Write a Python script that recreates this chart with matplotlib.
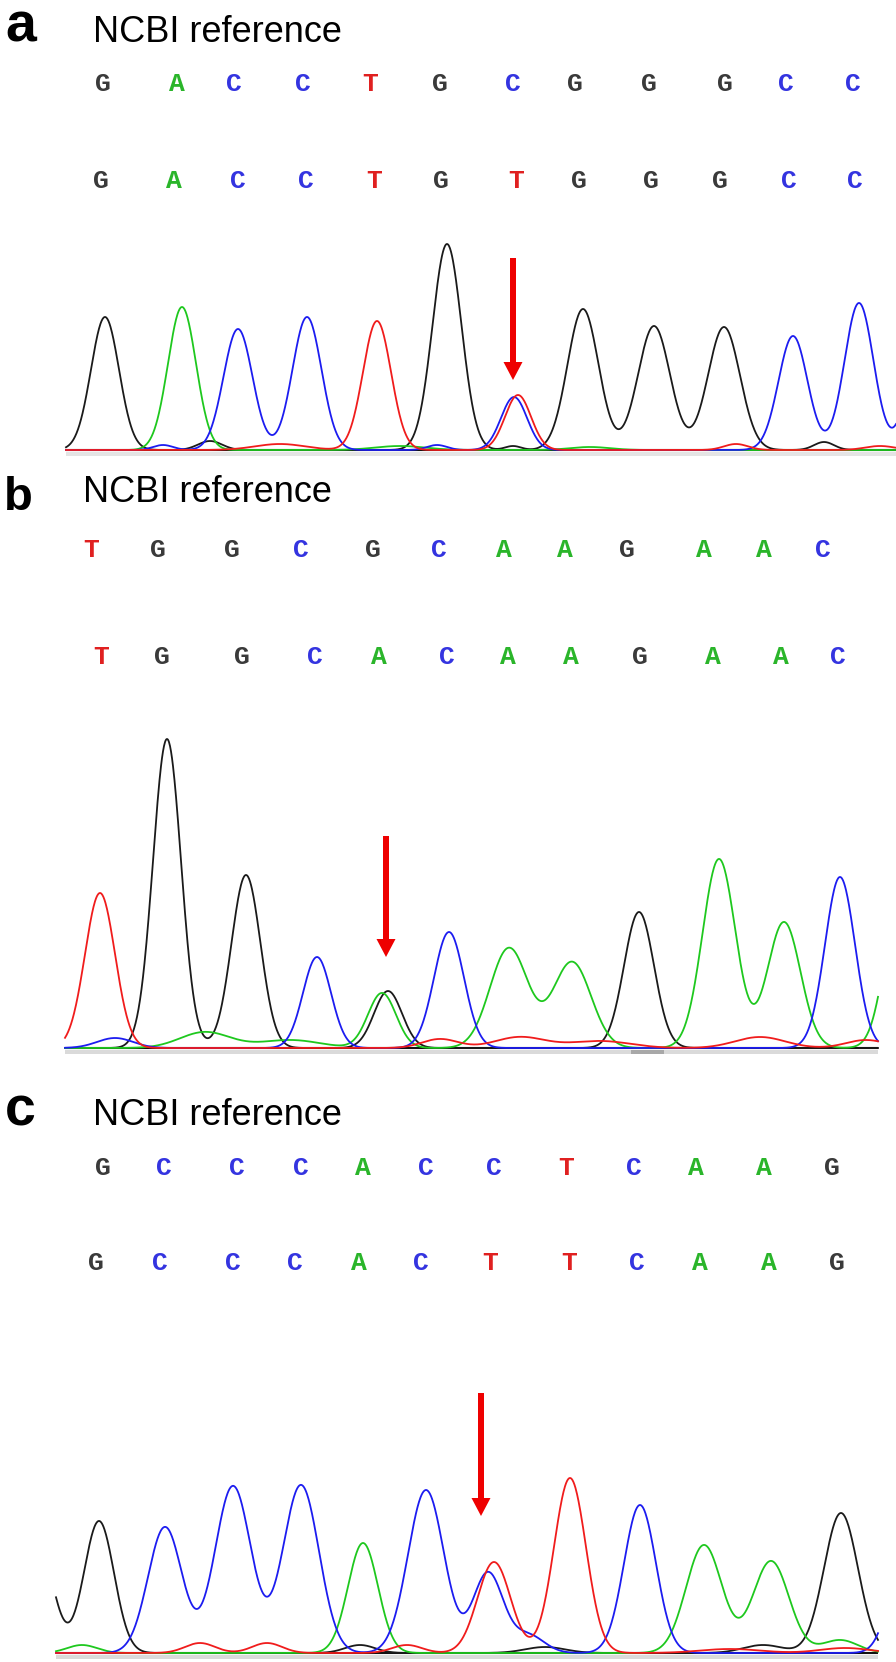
import numpy as np
import matplotlib
matplotlib.use("Agg")
import matplotlib.pyplot as plt
from matplotlib.patches import FancyArrow

# ---------------- data ----------------
panel_labels = ["a", "b", "c"]
title_text = "NCBI reference"

# base calls: reference row and sample row, with their x positions (scan units)
a_ref_seq = list("GACCTGCGGGCC")
a_ref_x = [103, 177, 234, 303, 370, 440, 513, 575, 649, 725, 786, 853]
a_smp_seq = list("GACCTGTGGGCC")
a_smp_x = [101, 174, 238, 306, 374, 441, 516, 579, 651, 720, 789, 855]

b_ref_seq = list("TGGCGCAAGAAC")
b_ref_x = [91, 158, 232, 301, 373, 439, 504, 565, 627, 704, 764, 823]
b_smp_seq = list("TGGCACAAGAAC")
b_smp_x = [101, 162, 242, 315, 379, 447, 508, 571, 640, 713, 781, 838]

c_ref_seq = list("GCCCACCTCAAG")
c_ref_x = [103, 164, 237, 301, 363, 426, 494, 566, 634, 696, 764, 832]
c_smp_seq = list("GCCCACTTCAAG")
c_smp_x = [96, 160, 233, 295, 359, 421, 490, 569, 637, 700, 769, 837]

# chromatogram peaks: channel, position, height, width
a_peak_base = ["G", "A", "C", "C", "T", "G", "C", "T", "G", "G", "G", "C", "C", "C",
               "G", "G", "G", "T", "T", "T", "C", "C", "A", "A"]
a_peak_pos = [105, 182, 238, 307, 377, 447, 514, 518, 583, 654, 724, 793, 859, 925,
              210, 513, 824, 280, 736, 880, 163, 437, 400, 590]
a_peak_height = [133, 143, 121, 133, 129, 206, 53, 55, 141, 124, 123, 114, 147, 150,
                 9, 4, 8, 6, 6, 4, 5, 5, 4, 3]
a_peak_width = [14, 14, 14.5, 14.5, 14, 14.5, 13, 13, 15.5, 16, 16, 14.5, 14.5, 14.5,
                12, 8, 10, 25, 12, 15, 10, 10, 25, 20]

b_peak_base = ["T", "G", "G", "C", "A", "G", "C", "A", "A", "G", "A", "A", "C", "A",
               "C", "A", "A", "T", "T", "T", "T", "T"]
b_peak_pos = [100, 167, 246, 317, 382, 388, 449, 509, 572, 639, 719, 784, 840, 900,
              115, 205, 290, 440, 520, 600, 760, 866]
b_peak_height = [155, 309, 173, 91, 55, 57, 116, 100, 86, 136, 189, 126, 171, 150,
                 10, 16, 8, 9, 11, 7, 11, 8]
b_peak_width = [15, 14, 14.5, 14, 14, 14, 15, 19, 19, 15, 16.5, 16.5, 15, 15,
                18, 25, 30, 18, 25, 30, 25, 20]

c_peak_base = ["G", "G", "C", "C", "C", "A", "C", "C", "T", "C", "T", "C", "A", "A", "G", "C",
               "A", "T", "T", "G", "T", "G", "G", "T", "T", "A"]
c_peak_pos = [38, 99, 165, 233, 301, 363, 426, 488, 494, 528, 570, 640, 704, 771, 841, 905,
              82, 200, 267, 360, 407, 545, 763, 730, 845, 840]
c_peak_height = [110, 132, 126, 167, 168, 110, 163, 80, 91, 18, 175, 148, 108, 92, 140, 100,
                 8, 10, 10, 8, 8, 6, 8, 4, 5, 13]
c_peak_width = [15, 15, 17, 18, 18, 15, 18, 15, 16.5, 16, 16, 16, 18, 18, 17, 15,
                15, 15, 15, 15, 15, 20, 20, 30, 25, 18]

# ---------------- style ----------------
W, H, DPI = 896, 1662, 100
plt.rcParams["font.family"] = ["Liberation Sans", "DejaVu Sans"]

trace_colors = {"G": "#1a1a1a", "A": "#1ec81e", "C": "#1c1cf0", "T": "#f01c1c"}
letter_colors = {"G": "#3a3a3a", "A": "#2ab52a", "C": "#3434e0", "T": "#e02020"}
channel_order = ["G", "A", "C", "T"]

panels = [
    dict(label=panel_labels[0], top=0, base=450, x0=66, x1=896,
         label_xy=(5, 42), label_size=40, title_xy=(93, 42),
         row1=91, row2=188, arrow=(513, 258, 380), band="#e4e4e4",
         ref=(a_ref_seq, a_ref_x), smp=(a_smp_seq, a_smp_x),
         peaks=(a_peak_base, a_peak_pos, a_peak_height, a_peak_width), mark=None),
    dict(label=panel_labels[1], top=460, base=1048, x0=65, x1=878,
         label_xy=(4, 510), label_size=34, title_xy=(83, 502),
         row1=557, row2=664, arrow=(386, 836, 957), band="#dadada",
         ref=(b_ref_seq, b_ref_x), smp=(b_smp_seq, b_smp_x),
         peaks=(b_peak_base, b_peak_pos, b_peak_height, b_peak_width), mark=(631, 664)),
    dict(label=panel_labels[2], top=1080, base=1653, x0=56, x1=878,
         label_xy=(5, 1125), label_size=40, title_xy=(93, 1125),
         row1=1175, row2=1270, arrow=(481, 1393, 1516), band="#dadada",
         ref=(c_ref_seq, c_ref_x), smp=(c_smp_seq, c_smp_x),
         peaks=(c_peak_base, c_peak_pos, c_peak_height, c_peak_width), mark=None),
]

fig = plt.figure(figsize=(W / DPI, H / DPI), dpi=DPI)
fig.patch.set_facecolor("white")

for p in panels:
    margin = 8
    top, base = p["top"], p["base"]
    ax = fig.add_axes([0, 1 - (base + margin) / H, 1, (base + margin - top) / H])
    ax.set_xlim(0, W)
    ax.set_ylim(-margin, base - top)
    ax.axis("off")

    def Y(row, base=base):
        return base - row

    # label and title
    lx, ly = p["label_xy"]
    fig.text(lx / W, 1 - ly / H, p["label"], fontsize=p["label_size"],
             fontweight="bold", va="baseline", ha="left", color="black")
    tx, ty = p["title_xy"]
    fig.text(tx / W, 1 - ty / H, title_text, fontsize=26, va="baseline",
             ha="left", color="black")

    # base-call rows
    for (seq, xs), row in ((p["ref"], p["row1"]), (p["smp"], p["row2"])):
        for ch, x in zip(seq, xs):
            ax.text(x, Y(row), ch, ha="center", va="baseline",
                    family="Liberation Mono", fontsize=19, fontweight="bold",
                    color=letter_colors[ch])

    # baseline + grey band
    x0, x1 = p["x0"], p["x1"]
    ax.fill_between([x0, x1], -6, -2, color=p["band"], lw=0, zorder=1)
    if p["mark"] is not None:
        ax.fill_between(list(p["mark"]), -6, -2, color="#a8a8a8", lw=0, zorder=1)
    ax.plot([x0, x1], [0, 0], color="#111111", lw=1.5, zorder=2,
            solid_capstyle="butt")

    # traces
    bases, pos, hts, wds = p["peaks"]
    xs = np.arange(x0, x1 + 0.25, 0.5)
    for ch in channel_order:
        y = np.zeros_like(xs)
        for b, m, h, s in zip(bases, pos, hts, wds):
            if b == ch:
                y += h * np.exp(-((xs - m) ** 2) / (2 * s * s))
        ax.plot(xs, y, color=trace_colors[ch], lw=1.3, zorder=3,
                solid_joinstyle="round")

    # arrow
    axx, atop, atip = p["arrow"]
    arr = FancyArrow(axx, Y(atop), 0, Y(atip) - Y(atop), width=6,
                     head_width=19, head_length=18, length_includes_head=True,
                     color="#ee0000", lw=0, zorder=5)
    ax.add_patch(arr)

fig.savefig("out.png", dpi=DPI, facecolor="white")
